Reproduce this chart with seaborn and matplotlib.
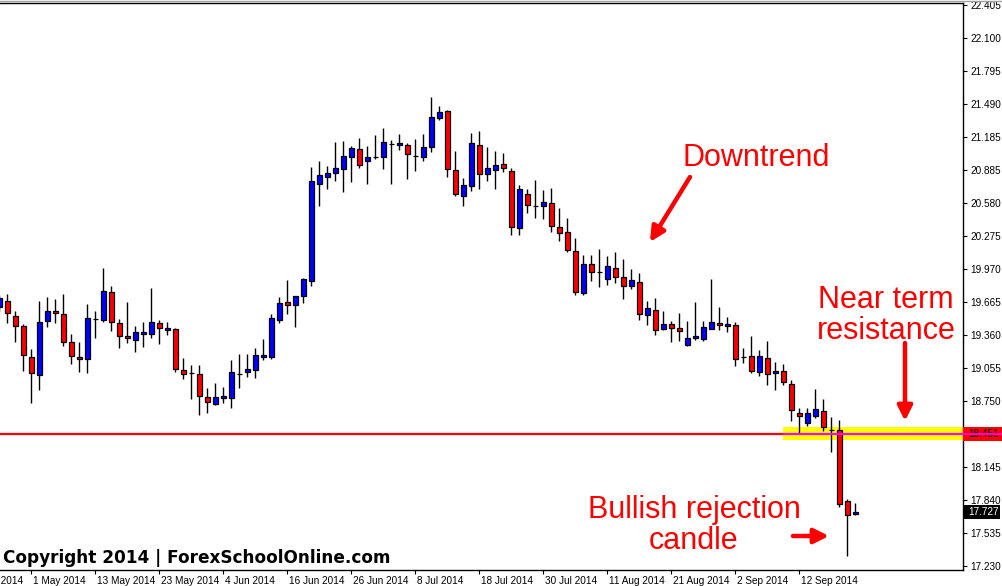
import numpy as np
import matplotlib
matplotlib.use("Agg")
import matplotlib.pyplot as plt
import seaborn as sns
from matplotlib.patches import Rectangle
from matplotlib.lines import Line2D
from matplotlib.transforms import ScaledTranslation

# ---------------- data (daily candles, 25 Apr 2014 .. 23 Sep 2014) ----------------
opens = [19.616, 19.671, 19.533, 19.440, 19.154, 18.988, 19.486, 19.579, 19.551, 19.293,
         19.154, 19.136, 19.511, 19.496, 19.754, 19.468, 19.348, 19.311, 19.367, 19.367,
         19.468, 19.403, 19.413, 19.034, 19.007, 18.998, 18.785, 18.721, 18.776, 18.776,
         18.998, 19.019, 19.037, 19.157, 19.157, 19.499, 19.665, 19.637, 19.720, 19.858,
         20.751, 20.821, 20.852, 20.889, 21.000, 21.074, 20.963, 21.000, 21.000, 21.120,
         21.111, 21.111, 21.012, 21.000, 21.092, 21.360, 21.424, 20.880, 20.640, 20.732,
         21.111, 20.843, 20.880, 20.935, 20.871, 20.345, 20.659, 20.548, 20.548, 20.576,
         20.354, 20.308, 20.133, 19.745, 20.013, 19.939, 19.874, 19.976, 19.893, 19.810,
         19.847, 19.542, 19.588, 19.413, 19.459, 19.422, 19.265, 19.330, 19.320, 19.413,
         19.468, 19.440, 19.450, 19.160, 19.164, 19.016, 19.145, 19.007, 19.025, 18.905,
         18.638, 18.546, 18.611, 18.657, 18.487, 18.481, 17.826, 17.705]
highs = [19.729, 19.738, 19.582, 19.462, 19.231, 19.674, 19.711, 19.692, 19.738, 19.369,
         19.296, 19.646, 19.582, 19.978, 19.812, 19.505, 19.665, 19.443, 19.480, 19.794,
         19.496, 19.477, 19.422, 19.148, 19.081, 19.081, 18.868, 18.915, 18.878, 19.130,
         19.185, 19.185, 19.240, 19.323, 19.554, 19.711, 19.868, 19.720, 19.886, 20.910,
         20.966, 20.920, 21.141, 21.150, 21.104, 21.178, 21.104, 21.206, 21.270, 21.160,
         21.215, 21.129, 21.169, 21.212, 21.556, 21.470, 21.434, 21.055, 20.806, 21.221,
         21.240, 21.092, 21.055, 21.040, 20.898, 20.742, 20.705, 20.791, 20.695, 20.714,
         20.529, 20.437, 20.253, 20.096, 20.096, 20.151, 20.087, 20.124, 20.059, 19.967,
         19.930, 19.671, 19.699, 19.579, 19.486, 19.560, 19.486, 19.662, 19.486, 19.874,
         19.616, 19.523, 19.477, 19.237, 19.348, 19.219, 19.302, 19.108, 19.090, 18.942,
         18.684, 18.684, 18.860, 18.767, 18.601, 18.574, 17.845, 17.808]
lows = [19.573, 19.468, 19.298, 19.031, 18.736, 18.856, 19.437, 19.468, 19.261, 19.095,
        19.022, 19.012, 19.335, 19.477, 19.394, 19.237, 19.284, 19.206, 19.252, 19.335,
        19.274, 19.357, 19.016, 18.957, 18.772, 18.619, 18.643, 18.715, 18.730, 18.687,
        18.871, 18.973, 18.963, 19.129, 19.139, 19.471, 19.554, 19.434, 19.655, 19.812,
        20.551, 20.710, 20.784, 20.683, 20.775, 20.901, 20.754, 20.984, 20.895, 20.756,
        21.067, 20.803, 20.876, 20.969, 21.046, 21.341, 20.821, 20.646, 20.553, 20.686,
        20.705, 20.780, 20.710, 20.867, 20.286, 20.280, 20.489, 20.443, 20.433, 20.314,
        20.231, 20.124, 19.727, 19.727, 19.862, 19.806, 19.821, 19.843, 19.695, 19.782,
        19.496, 19.455, 19.357, 19.403, 19.293, 19.302, 19.256, 19.311, 19.302, 19.413,
        19.403, 19.385, 19.071, 19.099, 19.007, 18.979, 18.896, 18.850, 18.896, 18.564,
        18.443, 18.524, 18.592, 18.472, 18.277, 17.771, 17.325, 17.697]
closes = [19.699, 19.560, 19.440, 19.173, 19.007, 19.477, 19.579, 19.560, 19.293, 19.164,
          19.136, 19.514, 19.511, 19.763, 19.477, 19.348, 19.330, 19.385, 19.385, 19.477,
          19.427, 19.422, 19.044, 18.998, 19.007, 18.795, 18.739, 18.785, 18.797, 19.016,
          18.998, 19.047, 19.176, 19.176, 19.517, 19.655, 19.637, 19.720, 19.877, 20.781,
          20.834, 20.852, 20.898, 21.009, 21.083, 20.926, 21.000, 21.000, 21.138, 21.120,
          21.129, 21.028, 21.012, 21.092, 21.369, 21.415, 20.889, 20.659, 20.742, 21.129,
          20.843, 20.898, 20.926, 20.898, 20.354, 20.705, 20.557, 20.548, 20.585, 20.363,
          20.299, 20.142, 19.755, 20.013, 19.939, 19.939, 19.994, 19.893, 19.810, 19.865,
          19.551, 19.606, 19.403, 19.459, 19.422, 19.394, 19.330, 19.348, 19.431, 19.477,
          19.450, 19.459, 19.136, 19.160, 19.025, 19.164, 18.998, 19.025, 18.924, 18.665,
          18.611, 18.638, 18.675, 18.509, 18.487, 17.799, 17.697, 17.727]

date_labels = ["21 Apr 2014", "1 May 2014", "13 May 2014", "23 May 2014", "4 Jun 2014",
               "16 Jun 2014", "26 Jun 2014", "8 Jul 2014", "18 Jul 2014", "30 Jul 2014",
               "11 Aug 2014", "21 Aug 2014", "2 Sep 2014", "12 Sep 2014"]
first_label_bar = -4          # bar index of "21 Apr 2014"
label_step = 8                # bars between date labels

price_ticks = [22.405, 22.100, 21.795, 21.490, 21.185, 20.885, 20.580, 20.275, 19.970,
               19.665, 19.360, 19.055, 18.750, 18.450, 18.145, 17.840, 17.535, 17.230]
price_tick_labels = ["22.405", "22.100", "21.795", "21.490", "21.185", "20.885", "20.580",
                     "20.275", "19.970", "19.665", "19.360", "19.055", "18.750", "18.450",
                     "18.145", "17.840", "17.535", "17.230"]

level = 18.451
zone_low, zone_high = 18.392, 18.512
zone_start_bar = 97.96
last_price = 17.727

# ---------------- style ----------------
sns.set_theme(style="white")
plt.rcParams['font.family'] = ['Liberation Sans', 'DejaVu Sans']

W, H = 1002, 586
fig = plt.figure(figsize=(W / 100, H / 100), dpi=100)
fig.patch.set_facecolor("white")
ax = fig.add_axes([0, 16 / H, 963 / W, 567 / H])
ax.set_facecolor("white")

n = len(opens)
idx = np.arange(n)
o = np.array(opens); c = np.array(closes)
hi = np.array(highs); lo = np.array(lows)

# zone + level
ax.add_patch(Rectangle((zone_start_bar, zone_low), 200, zone_high - zone_low,
                       facecolor="#FFFF00", edgecolor="none", zorder=1))

# candles
ax.vlines(idx, lo, hi, color="black", lw=1.0, zorder=2)
cols = ["#0000FF" if cc >= oo else "#FF0000" for oo, cc in zip(o, c)]
ax.bar(idx, c - o, bottom=o, width=0.55, color=cols, edgecolor="black",
       linewidth=0.9, zorder=3)

ax.hlines(level, -10, zone_start_bar, color="#FF0000", lw=1.6, zorder=4)
ax.hlines(level, zone_start_bar, 200, color="#FF00FF", lw=1.6, zorder=4)

ax.set_xlim(0.0875, 120.46)
ax.set_ylim(17.193, 22.423)

# spines
for s in ["top", "right", "bottom"]:
    ax.spines[s].set_visible(True)
    ax.spines[s].set_color("black")
    ax.spines[s].set_linewidth(1.0)
ax.spines["left"].set_visible(False)

# y axis on right
ax.yaxis.tick_right()
ax.set_yticks(price_ticks)
ax.set_yticklabels(price_tick_labels)
ax.tick_params(axis="y", which="both", direction="out", length=3, width=0.8,
               pad=2, labelsize=7.2, colors="black", left=False, right=True)

# x axis
xt = [first_label_bar + label_step * i for i in range(len(date_labels))]
ax.set_xticks(xt[1:])
ax.set_xticklabels(date_labels[1:])
ax.tick_params(axis="x", direction="out", length=3, width=0.8, pad=1.5,
               labelsize=7.2, colors="black", bottom=True)
off = ScaledTranslation(2 / 100, 0, fig.dpi_scale_trans)
for lab in ax.get_xticklabels():
    lab.set_ha("left")
    lab.set_transform(lab.get_transform() + off)
t0 = ax.text(xt[0], 0.0, date_labels[0], ha="left", va="top", fontsize=7.2,
             color="black", clip_on=False,
             transform=ax.get_xaxis_transform() +
             ScaledTranslation(2 / 100, -5.5 / 100, fig.dpi_scale_trans))
ax.grid(False)

# top grey border line
fig.add_artist(Line2D([0, 1], [1 - 0.7 / H] * 2, color="#a0a0a0", lw=1.0))

def fp(x, y):
    return (x / W, 1 - y / H)

# price labels on the axis
fig.add_artist(Rectangle(fp(963, 441), 39 / W, 14 / H, transform=fig.transFigure,
                         facecolor="#FF0000", edgecolor="none", zorder=5))
fig.text(*fp(968, 434), "18.451", ha="left", va="center", fontsize=7.2,
         color="black", zorder=6)
fig.add_artist(Line2D([963 / W, 1], [1 - 434 / H] * 2, color="#FF00FF", lw=1.2, zorder=7))
fig.add_artist(Rectangle(fp(963, 519), 37 / W, 14 / H, transform=fig.transFigure,
                         facecolor="black", edgecolor="none", zorder=5))
fig.text(*fp(968, 512), "17.727", ha="left", va="center", fontsize=7.2,
         color="white", zorder=6)

# annotations
red = "#FF0000"
fs = 22
fig.text(*fp(756, 166), "Downtrend", ha="center", va="baseline", fontsize=fs, color=red)
fig.text(*fp(886, 308), "Near term", ha="center", va="baseline", fontsize=fs, color=red)
fig.text(*fp(886, 339), "resistance", ha="center", va="baseline", fontsize=fs, color=red)
fig.text(*fp(694, 518), "Bullish rejection", ha="center", va="baseline", fontsize=fs, color=red)
fig.text(*fp(694, 549), "candle", ha="center", va="baseline", fontsize=fs, color=red)
fig.text(*fp(3, 563), "Copyright 2014 | ForexSchoolOnline.com", ha="left", va="baseline",
         fontsize=12.2, fontweight="bold", color="black", family="DejaVu Sans")

def arrow(x0, y0, x1, y1):
    ax.annotate("", xy=(x1, H - y1), xytext=(x0, H - y0), xycoords="figure pixels",
                textcoords="figure pixels",
                arrowprops=dict(arrowstyle="-|>", color=red, lw=3.2, mutation_scale=22,
                                shrinkA=0, shrinkB=0))

arrow(690, 177, 650, 242)
arrow(905, 343, 905, 421)
arrow(793, 536, 829, 536)

fig.savefig("out.png", dpi=100)
